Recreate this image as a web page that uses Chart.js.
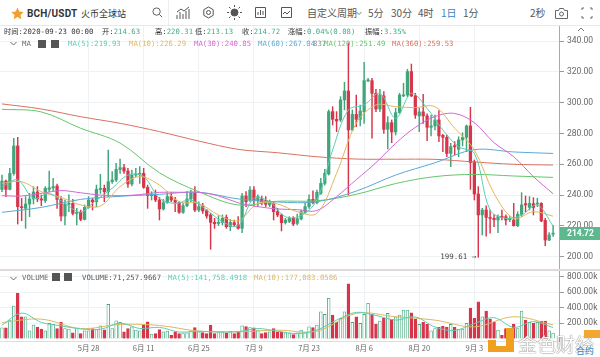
<!DOCTYPE html>
<html>
<head>
<meta charset="utf-8">
<script src="https://cdn.jsdelivr.net/npm/chart.js@4/dist/chart.umd.min.js"></script>
<style>
html, body { margin: 0; padding: 0; background: #fff; overflow: hidden; }
#page { position: relative; width: 600px; height: 357px; overflow: hidden; font-family: "Noto Sans CJK SC", "Noto Sans", sans-serif; }
canvas { position: absolute; left: 0; }
.t { position: absolute; white-space: nowrap; line-height: 10px; }
.mono { font-family: "DejaVu Sans Mono", "Noto Sans CJK SC", monospace; font-size: 7.3px; color: #333; }
.bar { font-size: 10px; color: #555; line-height: 12px; }
.g { color: #3fae82; }
svg { position: absolute; }
</style>
</head>
<body>
<div id="page">
  <canvas id="price-chart" width="600" height="243" style="top:26px"></canvas>
  <canvas id="volume-chart" width="600" height="86" style="top:271px"></canvas>
  <div style="position:absolute;left:0;top:25px;width:600px;height:1px;background:#e8e8e8"></div>
  <div style="position:absolute;left:0;top:269px;width:600px;height:2px;background:#dcdcdc"></div>
  <div style="position:absolute;left:168px;top:0;width:1px;height:25px;background:#eee"></div>

  <svg style="left:11px;top:7px" width="13" height="13" viewBox="0 0 24 24"><path d="M12 1l3.4 7.2 7.9 1-5.8 5.4 1.5 7.8-7-3.9-7 3.9 1.5-7.8L.7 9.200l7.900-1z" fill="#f0a030"/></svg>
  <div class="t" style="left:27px;top:7px;font-family:Roboto;font-size:10px;font-weight:700;letter-spacing:.2px;color:#333;line-height:13px">BCH/USDT</div>
  <div class="t" style="left:81px;top:7px;font-size:9px;color:#333;line-height:13px">火币全球站</div>
  <svg style="left:152px;top:7px" width="11" height="11" viewBox="0 0 12 12" fill="none" stroke="#555"><circle cx="5" cy="5" r="4"/><path d="M8 8l3 3"/></svg>
  <svg style="left:176px;top:6px" width="14" height="13" viewBox="0 0 14 13" fill="none" stroke="#555"><path d="M1 13V9M4 13V6M7 13V8M10 13V5M13 13V3M1 6l4-3 3 2 5-4"/></svg>
  <svg style="left:202px;top:6px" width="13" height="13" viewBox="0 0 13 13" fill="none" stroke="#555"><path d="M6.500 1l4.700 2.700v5.600L6.500 12 1.800 9.300V3.700z"/><circle cx="6.500" cy="6.500" r="2"/></svg>
  <svg style="left:227px;top:5px" width="15" height="15" viewBox="0 0 15 15" stroke="#555"><circle cx="7.500" cy="7.500" r="3.500" fill="#555"/><path d="M7.500 0v2M7.500 13v2M0 7.500h2M13 7.500h2M2 2l1.500 1.500M11.500 11.500L13 13M2 13l1.500-1.500M11.500 3.500L13 2"/></svg>
  <svg style="left:255px;top:7px" width="11" height="11" viewBox="0 0 11 11" fill="none" stroke="#555"><path d="M.5.500h10v10H.5zM3 8V5M5.500 8V3M8 8V4"/></svg>
  <svg style="left:281px;top:7px" width="11" height="11" viewBox="0 0 11 11" fill="none" stroke="#555"><path d="M.5.500h10v10H.5zM2 7l2-2 2 2 3-3"/></svg>

  <div class="t bar" style="left:307px;top:7px">自定义周期</div>
  <svg style="left:356px;top:11px" width="6" height="5" viewBox="0 0 6 5" fill="none" stroke="#777"><path d="M.5 1L3 3.500 5.500 1"/></svg>
  <div class="t bar" style="left:368px;top:7px">5分</div>
  <div class="t bar" style="left:391px;top:7px">30分</div>
  <div class="t bar" style="left:418px;top:7px">4时</div>
  <div class="t bar" style="left:441px;top:7px;color:#3b82c4">1日</div>
  <div class="t bar" style="left:463px;top:7px">1分</div>
  <div class="t bar" style="left:530px;top:7px">2秒</div>
  <svg style="left:555px;top:8px" width="13" height="11" viewBox="0 0 13 11" fill="none" stroke="#666"><path d="M.5 2.500h3l1-2h4l1 2h3v8H.5z"/><circle cx="6.500" cy="6" r="2"/></svg>
  <svg style="left:581px;top:7px" width="12" height="12" viewBox="0 0 12 12" fill="none" stroke="#666"><path d="M1 3V1h2M9 1h2v2M11 9v2H9M3 11H1V9"/></svg>

  <div class="t mono" style="left:4px;top:27px">时间:2020-09-23 00:00</div>
  <div class="t mono" style="left:102px;top:27px">开:<span class="g">214.63</span></div>
  <div class="t mono" style="left:155px;top:27px">高:<span class="g">220.31</span></div>
  <div class="t mono" style="left:195px;top:27px">低:<span class="g">213.13</span></div>
  <div class="t mono" style="left:242px;top:27px">收:<span class="g">214.72</span></div>
  <div class="t mono" style="left:288px;top:27px">涨幅:<span class="g">0.04%(0.08)</span></div>
  <div class="t mono" style="left:365px;top:27px">振幅:<span class="g">3.35%</span></div>
  <svg style="left:576px;top:26px" width="10" height="7" viewBox="0 0 10 7" fill="none" stroke="#777"><path d="M2 5l3-3 3 3"/></svg>

  <svg style="left:10px;top:41px" width="7" height="5" viewBox="0 0 7 5" fill="none" stroke="#666"><path d="M.5 1l3 3 3-3"/></svg>
  <div class="t mono" style="left:22px;top:39px;color:#666">MA</div>
  <div style="position:absolute;left:38px;top:40px;width:8px;height:8px;background:#555"></div>
  <div style="position:absolute;left:51px;top:40px;width:8px;height:8px;background:#555"></div>
  <div class="t mono" style="left:68px;top:39px;color:#5ccdb4">MA(5):219.93</div>
  <div class="t mono" style="left:129px;top:39px;color:#e0b75e">MA(10):226.29</div>
  <div class="t mono" style="left:194px;top:39px;color:#d466d4">MA(30):240.85</div>
  <div class="t mono" style="left:258px;top:39px;color:#5aa9d6">MA(60):267.04</div>
  <div class="t mono" style="left:313px;top:39px;color:#8a8f94">837</div>
  <div class="t mono" style="left:324px;top:39px;color:#62c76a">MA(120):251.49</div>
  <div class="t mono" style="left:392px;top:39px;color:#d9705f">MA(360):259.53</div>

  <svg style="left:10px;top:276px" width="7" height="5" viewBox="0 0 7 5" fill="none" stroke="#666"><path d="M.5 1l3 3 3-3"/></svg>
  <div class="t mono" style="left:22px;top:273px;color:#666">VOLUME</div>
  <div style="position:absolute;left:52px;top:273px;width:8px;height:8px;background:#555"></div>
  <div style="position:absolute;left:64px;top:273px;width:8px;height:8px;background:#555"></div>
  <div class="t mono" style="left:82px;top:273px;color:#555">VOLUME:71,257.9667</div>
  <div class="t mono" style="left:168px;top:273px;color:#5ccdb4">MA(5):141,758.4918</div>
  <div class="t mono" style="left:254px;top:273px;color:#e0b75e">MA(10):177,083.0586</div>

  <svg style="left:488px;top:328px" width="30" height="24" viewBox="0 0 30 24"><path d="M0 12h8v6h10V0h8v24H0z" fill="#f0a020"/></svg>
  <div class="t" style="left:518px;top:334px;font-size:19px;line-height:20px;color:#fff;opacity:.9;text-shadow:0 0 1px #666,0 0 1px #666">金色财经</div>
  <div style="position:absolute;left:584px;top:330px;width:16px;height:8px;background:#f0a830"></div>
  <div class="t" style="left:576px;top:346px;font-size:9px;color:#3b82c4">合约</div>
</div>

<script>
const dates = [];
for (let d = new Date(Date.UTC(2020, 4, 6)), n = 0; n < 142; n++) {
    dates.push(d.toISOString().slice(0, 10));
    d.setUTCDate(d.getUTCDate() + 1);
}

const priceTicks = [200, 220, 240, 260, 280, 300, 320, 340];
const volumeTicks = [200, 400, 600, 800];
const dateTickIndex = [22, 36, 50, 64, 78, 92, 106, 120];
const dateTickLabels = ['5月 28', '6月 11', '6月 25', '7月 9', '7月 23', '8月 6', '8月 20', '9月 3'];

const opens = [
    243.7, 249.1, 243.7, 254.1, 271.9, 232.3, 231.4, 234.2, 237.5, 242.0,
    237.5, 236.4, 243.7, 244.6, 245.9, 237.2, 226.4, 234.0, 234.6, 228.1,
    228.8, 224.2, 232.0, 236.8, 235.7, 243.7, 244.4, 242.2, 248.7, 249.8,
    256.7, 257.8, 255.6, 247.2, 253.0, 253.5, 254.1, 245.0, 239.6, 240.1,
    236.8, 231.0, 235.1, 239.0, 236.8, 235.1, 228.8, 233.1, 237.5, 241.6,
    230.3, 232.9, 229.9, 227.1, 222.3, 221.6, 222.1, 225.5, 219.5, 222.1,
    220.6, 218.4, 239.4, 236.8, 243.3, 236.4, 237.5, 236.4, 233.6, 234.6,
    229.2, 227.1, 222.1, 222.9, 224.9, 221.6, 224.5, 228.8, 232.5, 237.2,
    235.1, 241.1, 247.6, 253.7, 294.2, 289.2, 288.8, 301.8, 307.6, 282.3,
    292.4, 289.2, 294.2, 314.1, 314.3, 306.1, 295.9, 304.4, 282.7, 287.0,
    281.0, 293.5, 304.4, 305.0, 320.2, 304.4, 291.4, 294.0, 291.4, 284.0,
    284.9, 288.8, 278.8, 277.5, 267.1, 271.9, 269.7, 275.8, 277.5, 284.9,
    261.7, 240.7, 227.1, 230.3, 225.5, 224.9, 223.8, 226.0, 226.0, 224.0,
    223.8, 220.1, 227.5, 234.4, 232.0, 234.4, 234.2, 234.6, 223.6, 210.8,
    214.63
];
const closes = [
    249.1, 243.7, 254.1, 271.9, 232.5, 231.8, 234.2, 237.5, 242.0, 237.5,
    236.8, 244.4, 244.8, 245.5, 237.2, 226.4, 234.2, 234.6, 228.1, 228.8,
    224.2, 232.0, 236.8, 235.7, 243.7, 244.4, 242.2, 248.7, 249.8, 256.7,
    257.8, 255.6, 247.2, 253.0, 253.7, 254.1, 245.0, 239.6, 240.3, 236.8,
    231.0, 235.1, 239.0, 236.8, 235.3, 228.8, 233.1, 237.5, 241.6, 230.3,
    232.5, 229.7, 226.4, 222.3, 221.4, 222.3, 224.9, 219.5, 222.3, 220.8,
    218.4, 239.4, 235.7, 243.3, 236.4, 239.0, 235.7, 234.0, 235.7, 229.2,
    227.1, 222.1, 223.8, 224.9, 221.2, 224.7, 229.2, 232.5, 237.2, 235.1,
    241.8, 247.6, 254.1, 294.2, 289.2, 288.1, 301.8, 307.6, 282.3, 292.4,
    289.2, 294.6, 314.3, 314.7, 306.1, 295.9, 305.0, 282.7, 287.0, 281.0,
    293.5, 305.0, 305.0, 320.2, 304.4, 292.0, 294.0, 291.4, 284.0, 284.9,
    288.8, 278.4, 277.5, 267.1, 271.4, 271.4, 275.8, 277.5, 284.9, 261.1,
    240.7, 227.1, 230.3, 225.5, 224.9, 224.0, 226.0, 225.5, 223.8, 224.9,
    220.1, 227.5, 233.6, 233.6, 234.6, 232.0, 234.6, 223.2, 210.8, 214.1,
    214.72
];
const highs = [
    253.0, 249.8, 257.4, 276.9, 277.5, 237.9, 239.0, 241.1, 245.5, 245.5,
    240.1, 245.5, 255.6, 250.9, 247.2, 239.0, 236.8, 240.1, 237.2, 231.4,
    230.3, 233.6, 239.0, 237.9, 246.5, 253.5, 246.5, 269.3, 255.2, 260.6,
    263.4, 260.0, 257.4, 256.3, 257.4, 258.5, 257.4, 246.5, 242.2, 243.3,
    238.5, 237.2, 242.2, 241.6, 238.5, 235.7, 234.6, 242.2, 243.3, 245.5,
    235.7, 234.6, 230.7, 228.1, 224.9, 226.6, 227.1, 227.1, 224.2, 223.8,
    226.0, 241.1, 242.2, 245.5, 245.5, 240.1, 239.4, 239.0, 236.8, 235.7,
    231.4, 227.7, 224.9, 226.0, 226.0, 227.7, 230.3, 234.6, 240.1, 242.7,
    243.3, 250.9, 256.7, 295.3, 297.4, 294.2, 303.9, 313.2, 338.8, 295.3,
    305.0, 298.5, 326.2, 315.8, 315.8, 308.7, 308.7, 307.2, 290.9, 288.8,
    296.3, 306.1, 312.6, 321.7, 325.1, 306.1, 296.3, 305.4, 292.7, 292.0,
    292.0, 294.8, 279.5, 279.0, 273.6, 274.7, 277.9, 280.5, 285.5, 297.0,
    262.8, 245.5, 231.4, 233.1, 230.3, 227.1, 227.1, 230.3, 227.1, 226.0,
    234.6, 229.2, 241.6, 239.4, 239.0, 238.3, 237.9, 235.1, 224.9, 215.6,
    220.31
];
const lows = [
    242.2, 239.0, 243.3, 253.0, 221.2, 223.4, 218.4, 226.0, 234.2, 235.7,
    233.1, 235.1, 242.2, 242.9, 231.4, 223.2, 220.6, 229.2, 227.1, 220.6,
    223.4, 223.8, 231.4, 230.3, 232.5, 241.1, 235.7, 239.0, 247.6, 248.7,
    254.1, 254.1, 245.0, 245.9, 252.0, 247.6, 244.4, 231.4, 236.8, 235.7,
    223.8, 230.3, 234.6, 235.7, 229.2, 228.1, 228.1, 232.5, 235.7, 229.2,
    229.2, 228.1, 224.9, 204.8, 218.4, 220.1, 220.6, 218.4, 216.9, 219.5,
    217.8, 215.6, 232.5, 235.7, 232.5, 232.5, 233.6, 232.5, 232.5, 223.8,
    226.0, 216.7, 221.2, 222.1, 220.1, 220.6, 223.8, 228.1, 231.4, 234.2,
    234.2, 240.5, 246.5, 253.0, 285.5, 281.2, 287.7, 295.3, 240.1, 281.8,
    284.4, 284.9, 286.6, 313.7, 276.9, 294.2, 294.2, 280.1, 269.9, 274.0,
    279.0, 293.1, 303.9, 303.9, 303.9, 289.8, 281.2, 286.6, 275.3, 278.4,
    282.3, 274.7, 268.2, 264.9, 258.5, 266.0, 264.9, 271.9, 268.2, 243.7,
    236.8, 199.61, 214.1, 213.4, 215.2, 219.5, 215.6, 223.8, 220.6, 222.7,
    219.9, 219.5, 226.0, 229.2, 230.3, 227.1, 232.5, 222.7, 207.1, 210.4,
    213.13
];
// thousands
const volumes = [
    139, 139, 239, 422, 587, 283, 283, 100, 174, 148,
    122, 100, 196, 183, 130, 209, 130, 122, 74, 130,
    65, 100, 100, 130, 117, 165, 113, 443, 130, 230,
    209, 87, 130, 152, 109, 100, 174, 217, 57, 65,
    117, 87, 96, 43, 87, 65, 65, 74, 100, 143,
    87, 78, 65, 174, 65, 87, 87, 74, 96, 65,
    87, 165, 156, 143, 139, 109, 65, 78, 87, 130,
    87, 87, 74, 65, 52, 74, 109, 74, 152, 143,
    174, 348, 313, 522, 304, 209, 261, 348, 709, 209,
    283, 196, 313, 457, 313, 187, 226, 261, 326, 248,
    283, 304, 370, 370, 335, 252, 183, 209, 183, 100,
    130, 148, 161, 148, 183, 148, 122, 122, 196, 391,
    261, 478, 283, 357, 252, 209, 109, 43, 130, 87,
    183, 130, 357, 239, 209, 196, 209, 226, 226, 100,
    71.258
];

// every few candles: ma5 every 4, ma10 and ma30 every 5, the rest every 10
const ma5 = [245.5, 249.8, 237.9, 241.0, 234.6, 229.0, 236.8, 244.4, 253.0, 252.0, 237.9, 234.6, 236.8, 230.3, 222.7, 220.1, 237.9, 235.7, 226.0, 226.6, 236.8, 269.3, 295.3, 298.5, 306.1, 289.9, 306.1, 296.3, 282.3, 271.4, 267.1, 230.3, 224.9, 227.0, 233.6, 219.93];
const ma10 = [247.6, 248.7, 242.2, 238.5, 233.6, 232.9, 245.5, 252.0, 246.5, 235.7, 234.6, 227.1, 223.4, 234.6, 234.2, 229.2, 228.1, 254.1, 286.6, 298.5, 297.4, 296.8, 297.4, 283.4, 269.3, 241.1, 224.9, 229.2, 226.29];
const ma30 = [239.6, 239.4, 241.1, 242.9, 241.5, 240.0, 239.6, 240.3, 241.8, 241.8, 241.8, 239.5, 235.0, 232.5, 231.0, 230.5, 230.0, 239.0, 250.0, 261.0, 273.6, 284.0, 291.0, 293.0, 287.0, 274.0, 264.9, 252.0, 240.85];
const ma60 = [228.8, 232.0, 237.2, 239.2, 240.5, 241.8, 237.5, 235.5, 235.7, 242.6, 253.0, 261.0, 269.5, 268.0, 267.04];
const ma120 = [295.7, 294.0, 283.4, 273.8, 254.5, 242.2, 233.6, 236.0, 236.3, 240.5, 247.5, 252.0, 253.4, 252.4, 251.49];
const ma360 = [299.2, 295.9, 290.9, 286.6, 281.2, 275.1, 269.7, 267.5, 264.9, 263.4, 263.3, 263.2, 261.5, 260.0, 259.53];

const volMa5 = [174, 330, 209, 165, 125, 120, 200, 130, 145, 85, 95, 85, 90, 130, 95, 65, 109, 239, 340, 300, 240, 280, 150, 105, 195, 270, 145, 220, 141.758];
const volMa10 = [209, 252, 130, 183, 170, 96, 87, 109, 96, 326, 283, 239, 152, 283, 177.083];

const red = '#d8344a';
const green = '#40a57b';

function sampled(values, step) {
    return values.map((v, i) => ({ x: dates[i * step], y: v }));
}

function maLine(label, values, step, color) {
    return {
        type: 'line',
        label: label,
        data: sampled(values, step),
        borderColor: color,
        borderWidth: 1,
        pointRadius: 0,
        tension: 0.35,
        order: 1
    };
}

function candleColor(ctx) {
    return closes[ctx.dataIndex] >= opens[ctx.dataIndex] ? green : red;
}

// grid lines fall on the two-week date ticks, and the axes only keep the listed values
function dateAxisTicks(scale) {
    scale.ticks = dateTickIndex.map(i => ({ value: i }));
}

function valueTicks(list) {
    return scale => { scale.ticks = list.map(v => ({ value: v })); };
}

// keep the plot area to the full canvas height, the label half-heights eat into it otherwise
function fitValueAxis(scale) {
    scale.width = 41;
    scale.paddingTop = 0;
    scale.paddingBottom = 0;
}

const priceMarks = {
    id: 'priceMarks',
    afterDraw(chart) {
        const { ctx, scales } = chart;
        const last = closes[closes.length - 1];
        const lastY = scales.y.getPixelForValue(last);
        ctx.save();
        ctx.fillStyle = '#5db88f';
        ctx.fillRect(560, lastY - 7, 40, 13);
        ctx.fillStyle = '#fff';
        ctx.font = 'bold 8.5px Roboto';
        ctx.textAlign = 'left';
        ctx.textBaseline = 'middle';
        ctx.fillText(last.toFixed(2), 567, lastY);
        const lowest = Math.min(...lows);
        const lowX = scales.x.getPixelForValue(lows.indexOf(lowest));
        ctx.fillStyle = '#444';
        ctx.font = '7.5px "DejaVu Sans Mono"';
        ctx.textAlign = 'right';
        ctx.fillText(lowest.toFixed(2) + ' →', lowX - 2, scales.y.getPixelForValue(lowest));
        ctx.restore();
    }
};

new Chart(document.getElementById('price-chart').getContext('2d'), {
    type: 'bar',
    data: {
        labels: dates,
        datasets: [
            maLine('MA(5)', ma5, 4, '#5ccdb4'),
            maLine('MA(10)', ma10, 5, '#e0b75e'),
            maLine('MA(30)', ma30, 5, '#d466d4'),
            maLine('MA(60)', ma60, 10, '#5aa9d6'),
            maLine('MA(120)', ma120, 10, '#62c76a'),
            maLine('MA(360)', ma360, 10, '#d9705f'),
            {
                label: 'body',
                data: opens.map((o, i) => [o, closes[i]]),
                backgroundColor: candleColor,
                barThickness: 2.6,
                minBarLength: 1,
                grouped: false,
                order: 2
            },
            {
                label: 'wick',
                data: lows.map((l, i) => [l, highs[i]]),
                backgroundColor: candleColor,
                barThickness: 0.8,
                grouped: false,
                order: 3
            }
        ]
    },
    options: {
        responsive: false,
        animation: false,
        layout: { autoPadding: false, padding: 0 },
        plugins: { legend: { display: false }, tooltip: { enabled: false } },
        scales: {
            x: {
                offset: true,
                afterBuildTicks: dateAxisTicks,
                afterFit: s => { s.height = 0; },
                grid: { color: '#edf2f5', offset: false, drawTicks: false },
                border: { display: false },
                ticks: { display: false }
            },
            y: {
                position: 'right',
                min: 192,
                max: 349.8,
                afterBuildTicks: valueTicks(priceTicks),
                afterFit: fitValueAxis,
                grid: { color: '#edf2f5', tickColor: '#999', tickLength: 5 },
                border: { color: '#aaa' },
                ticks: {
                    padding: 3,
                    color: '#666',
                    font: { family: 'Roboto', size: 8.5 },
                    callback: v => v.toFixed(2)
                }
            }
        }
    },
    plugins: [priceMarks]
});

new Chart(document.getElementById('volume-chart').getContext('2d'), {
    type: 'bar',
    data: {
        labels: dates,
        datasets: [
            maLine('MA(5)', volMa5, 5, '#5ccdb4'),
            maLine('MA(10)', volMa10, 10, '#e0b75e'),
            {
                label: 'VOLUME',
                data: volumes,
                backgroundColor: ctx => closes[ctx.dataIndex] >= opens[ctx.dataIndex] ? '#fff' : red,
                borderColor: candleColor,
                borderWidth: 0.8,
                barThickness: 2.8,
                order: 2
            }
        ]
    },
    options: {
        responsive: false,
        animation: false,
        layout: { autoPadding: false, padding: 0 },
        plugins: { legend: { display: false }, tooltip: { enabled: false } },
        scales: {
            x: {
                offset: true,
                afterBuildTicks: dateAxisTicks,
                afterFit: s => { s.height = 16; },
                grid: { color: '#edf2f5', offset: false, drawTicks: false },
                border: { color: '#ddd' },
                ticks: {
                    autoSkip: false,
                    maxRotation: 0,
                    padding: 3,
                    color: '#666',
                    font: { family: 'Noto Sans CJK SC', size: 7.5 },
                    callback: (v, i) => dateTickLabels[i]
                }
            },
            y: {
                position: 'right',
                min: -32,
                max: 877,
                afterBuildTicks: valueTicks(volumeTicks),
                afterFit: fitValueAxis,
                grid: { color: '#edf2f5', tickColor: '#999', tickLength: 5 },
                border: { color: '#aaa' },
                ticks: {
                    padding: 3,
                    color: '#666',
                    font: { family: 'Roboto', size: 8.5 },
                    callback: v => v.toFixed(2) + 'k'
                }
            }
        }
    }
});
</script>
</body>
</html>
